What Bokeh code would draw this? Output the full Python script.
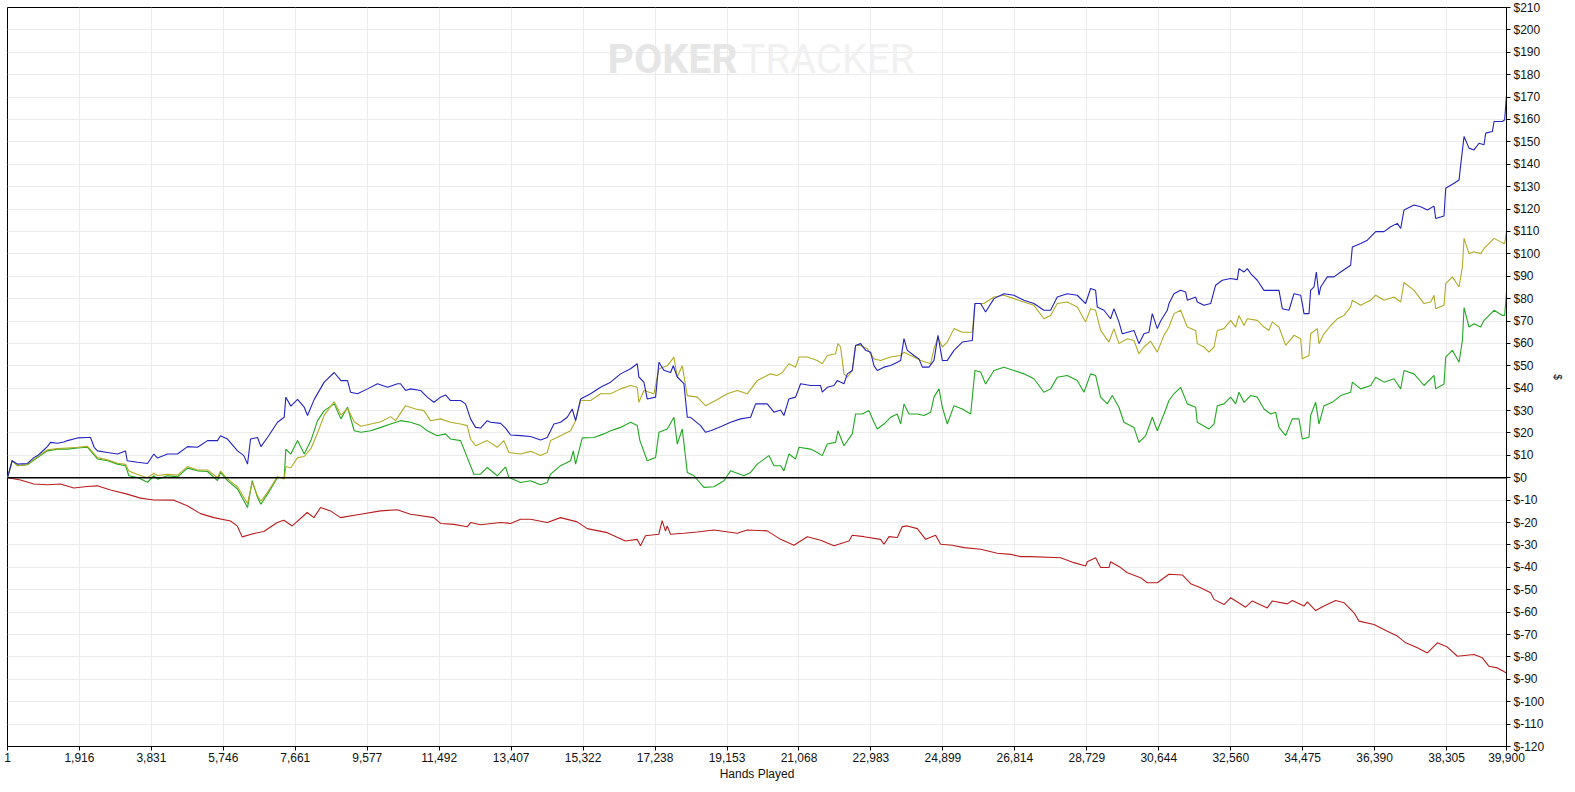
from bokeh.plotting import figure
from bokeh.models import FixedTicker, Span, Label, Range1d
from bokeh.embed import file_html
from bokeh.resources import INLINE

# ---------------- data ----------------
x_ticks = [1, 1916, 3831, 5746, 7661, 9577, 11492, 13407, 15322, 17238, 19153,
           21068, 22983, 24899, 26814, 28729, 30644, 32560, 34475, 36390, 38305, 39900]
y_ticks = list(range(-120, 211, 10))

blue_hands = [
    1, 125, 267, 533, 701, 800, 967, 1066, 1146, 1332,
    1500, 1598, 1864, 2131, 2210, 2308, 2397, 2663, 2929, 3142,
    3187, 3462, 3728, 3896, 3994, 4260, 4526, 4793, 5059, 5325,
    5591, 5671, 5857, 6123, 6292, 6390, 6470, 6656, 6745, 6922,
    7188, 7366, 7410, 7543, 7721, 7899, 7987, 8165, 8431, 8698,
    8875, 9052, 9132, 9318, 9584, 9850, 10117, 10383, 10463, 10596,
    10729, 10995, 11173, 11350, 11528, 11661, 11794, 12060, 12193, 12326,
    12459, 12592, 12770, 12858, 13125, 13258, 13391, 13657, 13923, 14189,
    14367, 14545, 14722, 14900, 15033, 15122, 15255, 15521, 15787, 16053,
    16319, 16585, 16763, 16807, 16940, 17029, 17251, 17340, 17473, 17651,
    17722, 17828, 18006, 18095, 18183, 18449, 18582, 18715, 18981, 19247,
    19513, 19780, 19913, 20223, 20401, 20578, 20667, 20800, 20978, 21111,
    21377, 21643, 21688, 21821, 21998, 22087, 22265, 22354, 22487, 22575,
    22708, 22842, 22975, 23063, 23152, 23330, 23507, 23685, 23774, 23863,
    23951, 24129, 24262, 24351, 24528, 24661, 24768, 24883, 25016, 25194,
    25416, 25682, 25751, 25902, 26035, 26257, 26523, 26789, 27055, 27321,
    27588, 27765, 27943, 28209, 28475, 28697, 28830, 28963, 29007, 29185,
    29362, 29451, 29584, 29673, 29984, 30117, 30250, 30383, 30472, 30605,
    30694, 30871, 30916, 31049, 31226, 31359, 31404, 31626, 31670, 31848,
    32025, 32158, 32336, 32557, 32735, 32779, 32912, 33001, 33090, 33267,
    33445, 33844, 33933, 34110, 34243, 34421, 34465, 34510, 34643, 34687,
    34776, 34838, 34909, 34954, 35131, 35309, 35486, 35752, 35797, 36019,
    36196, 36418, 36640, 36817, 36995, 37084, 37172, 37439, 37616, 37794,
    37971, 38015, 38237, 38282, 38504, 38637, 38681, 38770, 38903, 39036,
    39169, 39302, 39347, 39524, 39569, 39791, 39852, 39900]
blue_vals = [
    0, 7.6, 6.1, 6.4, 9, 9.9, 12.4, 14, 15.8, 15.4,
    16, 16.6, 17.8, 18, 18, 13.6, 12, 11.3, 10.6, 12,
    7.6, 6.9, 6.4, 10.6, 8.8, 10.6, 10.6, 13.9, 13.6, 16.6,
    16.6, 18.8, 17.3, 12, 9.9, 6.1, 17.3, 18, 13.9, 18,
    24.8, 27, 36, 32, 35, 31.5, 27.8, 35, 42.7, 47,
    43.4, 43.4, 38.2, 37.5, 39.7, 42, 40.4, 42, 42, 39,
    39.7, 39, 36, 33.7, 36, 37, 34.5, 34.5, 33, 26.3,
    22.5, 22.2, 25.5, 24.8, 24.3, 22.2, 19.1, 18.8, 18.4, 16.9,
    18, 24, 24.8, 27, 30.7, 25.5, 35.2, 37.5, 40.4, 42.7,
    46.4, 48.7, 50.9, 45, 42.7, 35.2, 36, 51.6, 48, 47,
    50, 45, 42, 27, 27, 23.3, 20.3, 21, 22.8, 24.8,
    26.3, 27, 33, 33, 29.3, 30.3, 27.8, 35.2, 36, 42,
    41.2, 41.2, 38.2, 40.4, 41.2, 43.4, 42, 46.4, 47.9, 59.1,
    59.9, 56.9, 56.1, 50.1, 47.9, 49.4, 50.1, 51.6, 52.4, 62.1,
    56.9, 54.6, 53.1, 49.4, 49.4, 52.4, 63.6, 52.4, 52.4, 56.9,
    60.6, 61.3, 77.8, 77.8, 74, 80, 82.2, 81.5, 79.3, 77.8,
    74.8, 74.8, 80.7, 82.2, 81.5, 77.8, 84.5, 83.7, 76.3, 74.8,
    71, 75.5, 69.6, 64.3, 65.8, 59.9, 64.3, 65, 73.3, 66.6,
    70, 74.8, 77.8, 82.2, 83.7, 83, 79.3, 80.7, 78.5, 77,
    77.8, 86, 88.2, 89, 88.5, 93.4, 91.9, 93.4, 91.2, 88.2,
    83.7, 83.7, 75.5, 74.8, 82.2, 81.5, 77.8, 73.3, 73.3, 83.7,
    85.2, 91.9, 81.5, 85.2, 89.7, 89.7, 91.9, 94.9, 103.1, 104.6,
    106.1, 109.9, 109.9, 112.1, 113.6, 111.3, 119.6, 121.8, 121, 119.6,
    121.3, 115.8, 116.9, 129.3, 131.5, 133, 139.7, 152.4, 147.2, 146.4,
    149.4, 148.7, 153.9, 154.6, 159.1, 159.1, 159.9, 171]

olive_hands = [
    1, 125, 267, 533, 800, 1066, 1332, 1598, 1864, 2131,
    2397, 2663, 2929, 3142, 3231, 3462, 3728, 3896, 3994, 4260,
    4526, 4793, 5059, 5325, 5591, 5671, 5857, 6123, 6390, 6514,
    6656, 6745, 6922, 7188, 7366, 7410, 7543, 7721, 7899, 8076,
    8254, 8431, 8698, 8875, 9052, 9229, 9407, 9673, 9939, 10196,
    10330, 10596, 10862, 11084, 11262, 11528, 11794, 12060, 12237, 12326,
    12459, 12770, 13036, 13214, 13347, 13657, 13923, 14189, 14367, 14456,
    14722, 14989, 15122, 15255, 15521, 15787, 16053, 16319, 16585, 16763,
    16807, 16940, 17207, 17340, 17562, 17739, 17828, 17961, 18095, 18361,
    18582, 18848, 19159, 19425, 19691, 19957, 20312, 20490, 20623, 20800,
    20978, 21067, 21289, 21555, 21688, 21821, 22043, 22105, 22176, 22265,
    22354, 22487, 22575, 22708, 22886, 23063, 23241, 23507, 23774, 23863,
    24040, 24306, 24573, 24661, 24768, 24883, 25016, 25194, 25416, 25682,
    25751, 25991, 26257, 26523, 26789, 27055, 27321, 27588, 27765, 27943,
    28209, 28475, 28697, 28830, 28963, 29096, 29318, 29451, 29584, 29806,
    29984, 30117, 30250, 30428, 30605, 30783, 30916, 31049, 31226, 31404,
    31626, 31670, 31848, 31981, 32114, 32203, 32380, 32557, 32690, 32779,
    32912, 33001, 33267, 33445, 33578, 33667, 33844, 34022, 34243, 34421,
    34465, 34643, 34687, 34865, 34909, 35042, 35220, 35397, 35575, 35752,
    35797, 36019, 36285, 36418, 36640, 36906, 37084, 37172, 37439, 37705,
    37883, 37971, 38015, 38237, 38282, 38459, 38637, 38726, 38770, 38903,
    39036, 39214, 39302, 39569, 39791, 39852, 39900]
olive_vals = [
    0, 7.6, 5.4, 6, 9.5, 12.5, 13, 13.3, 13.6, 14,
    9, 8, 6.5, 6, 3, 1.5, 0, 2, 1, 1.5,
    1.2, 5, 3.5, 3.5, 0, 3, -0.5, -4, -11.5, -2,
    -8, -10.5, -6.5, 0.5, -0.5, 5, 4.5, 9, 9.5, 13,
    20, 28, 34, 28, 31, 25, 23, 24, 25, 27.3,
    25.5, 32.2, 30.7, 30, 25.5, 26.3, 24.8, 24, 23.3, 17.3,
    14.3, 16.6, 13.6, 16.6, 11.3, 10.6, 11.8, 9.9, 11.3, 16.6,
    18.8, 21, 25.5, 34.5, 34.5, 37.5, 37.5, 39.7, 41.2, 40.4,
    33.7, 39, 37.5, 48.7, 50, 53.9, 45, 50, 36.7, 36,
    32.2, 34.5, 37.5, 39, 37.5, 43.4, 46.4, 45.7, 47, 50.9,
    49.4, 53.9, 53.9, 52.4, 50.9, 54.6, 55.4, 59.9, 58.4, 46.4,
    44.9, 47.9, 59.1, 59.1, 57.6, 53.1, 52.4, 53.9, 54.6, 56.1,
    54.6, 52.4, 50.9, 57.6, 62.8, 58.4, 60.6, 66.6, 65, 65,
    77.8, 77.8, 80.7, 81.5, 80, 78.5, 77, 71, 72.5, 77.8,
    78.5, 76.3, 69.6, 75.5, 74.8, 65.8, 60.6, 66.6, 59.9, 62.1,
    61.3, 55.4, 58.4, 61, 56.1, 63.6, 67.3, 73.3, 74.8, 67.3,
    65.8, 59.9, 58.4, 56.1, 58.4, 65.8, 66.6, 70.3, 67.3, 72.5,
    68, 71, 70.3, 67.3, 65.8, 69.6, 67.3, 59.1, 63.6, 62.1,
    53.1, 54.6, 64.3, 66.6, 59.9, 64.3, 68, 71, 72.5, 76.3,
    79.3, 77, 79.3, 81.5, 79.3, 80.7, 78.5, 87.2, 83.7, 77.8,
    78.5, 81.5, 75.5, 77, 86.7, 89.7, 85.2, 94.2, 106.9, 100.1,
    100.9, 100.1, 102.4, 106.9, 104.9, 104.6, 110]

green_hands = [
    1, 125, 267, 533, 800, 1066, 1332, 1598, 1864, 2131,
    2397, 2663, 2929, 3142, 3231, 3462, 3728, 3896, 3994, 4260,
    4526, 4793, 5059, 5325, 5591, 5671, 5857, 6123, 6390, 6514,
    6656, 6745, 6922, 7188, 7366, 7410, 7543, 7721, 7899, 8076,
    8254, 8431, 8698, 8875, 9052, 9229, 9407, 9673, 9939, 10196,
    10463, 10729, 10995, 11173, 11439, 11661, 11794, 12060, 12237, 12415,
    12592, 12770, 13036, 13258, 13347, 13657, 13923, 14189, 14367, 14456,
    14722, 14989, 15060, 15122, 15300, 15610, 15876, 16053, 16319, 16585,
    16763, 16834, 17029, 17251, 17340, 17562, 17739, 17828, 17961, 18095,
    18272, 18538, 18804, 19070, 19247, 19602, 19780, 19957, 20268, 20401,
    20578, 20667, 20800, 20978, 21067, 21377, 21555, 21688, 21821, 22043,
    22105, 22265, 22487, 22575, 22753, 22931, 23063, 23152, 23330, 23507,
    23685, 23774, 23863, 23996, 24218, 24395, 24573, 24661, 24795, 24883,
    25016, 25194, 25416, 25638, 25751, 25902, 26035, 26257, 26523, 26789,
    27055, 27321, 27588, 27765, 27943, 28209, 28475, 28653, 28830, 28963,
    29096, 29274, 29407, 29584, 29717, 29984, 30117, 30295, 30472, 30605,
    30783, 30916, 31049, 31226, 31404, 31626, 31670, 31981, 32114, 32203,
    32380, 32557, 32690, 32779, 32912, 33090, 33267, 33445, 33622, 33755,
    33844, 34022, 34199, 34376, 34465, 34643, 34687, 34820, 34909, 35042,
    35264, 35486, 35752, 35797, 36019, 36285, 36418, 36640, 36906, 37084,
    37172, 37439, 37705, 37971, 38015, 38237, 38282, 38459, 38637, 38726,
    38770, 38903, 39036, 39214, 39302, 39569, 39791, 39852, 39900]
green_vals = [
    0, 7.6, 5.4, 5.8, 9, 12, 12.8, 12.8, 13.3, 13.6,
    8.4, 7.6, 6.1, 5.4, 0.9, 0.1, -2, 0.9, -0.6, 0.9,
    0.4, 4.3, 3.1, 2.8, -1.3, 2.4, -1.3, -5, -13.3, -1.3,
    -8.8, -11.8, -7.3, 0.1, 0.1, 12.8, 10.6, 16.6, 10.6, 16.6,
    25.5, 30, 33, 26.3, 31.5, 21, 20.3, 21, 22.5, 24,
    25.5, 24.8, 23.3, 21, 18.8, 19.6, 17.3, 16.6, 9.1, 1.6,
    1.6, 4.6, 0.9, 4.9, 0.1, -2.1, -1.3, -3.1, -2.1, 1.6,
    5.4, 7.6, 12, 6.1, 17.8, 18, 19.6, 21, 22.5, 24.8,
    23.3, 16.6, 7.6, 9.1, 20.3, 21.8, 27, 15, 21.8, 2.4,
    0.9, -4.3, -4, -1.3, 3.1, 0.9, 2.4, 6.1, 9.9, 5.4,
    5.4, 3.1, 10.6, 8.4, 13.6, 12.8, 11.3, 9.9, 15.1, 15.8,
    21, 14.3, 19.6, 28.5, 28.5, 30, 24.8, 21.8, 24, 27,
    28.5, 24, 33, 28.5, 28.5, 27.8, 29.3, 36, 39.7, 31.5,
    24, 32.2, 30.7, 28.5, 47.9, 47.2, 41.9, 47.9, 49.4, 47.9,
    46.4, 44.2, 38.2, 39.7, 44.9, 45.7, 43.4, 38.2, 46.4, 45.7,
    36, 33, 36.7, 31.5, 24.8, 22.5, 15.8, 18.8, 27, 21,
    28.5, 34.5, 37.5, 40.4, 33, 31.5, 24.8, 21.8, 24, 32.2,
    33, 36, 33, 38.2, 33.7, 36.7, 36, 30.7, 28.5, 29.3,
    22.5, 18.8, 26.3, 26.3, 17.3, 18.1, 27.8, 33.7, 24, 32.2,
    33.7, 36.7, 38.2, 42.7, 39.7, 41.2, 44.9, 42.7, 44.2, 39.7,
    47.9, 46.4, 41.2, 45.7, 39.7, 41.9, 53.9, 56.9, 51.6, 61.3,
    76, 67.3, 68.8, 67.3, 70.3, 74.8, 72.5, 72.5, 83]

red_hands = [
    1, 347, 701, 1058, 1412, 1766, 2123, 2389, 2743, 3187,
    3541, 3896, 4428, 4784, 5139, 5493, 5937, 6115, 6248, 6557,
    6823, 7180, 7357, 7580, 7979, 8156, 8333, 8599, 8865, 9398,
    9930, 10374, 10728, 11350, 11528, 11882, 12237, 12326, 12592, 13125,
    13391, 13657, 13924, 14368, 14722, 15166, 15432, 15965, 16448, 16760,
    16849, 16982, 17337, 17426, 17515, 17560, 17648, 18003, 18358, 18802,
    19425, 19691, 20224, 20579, 20934, 21289, 21644, 21999, 22398, 22487,
    22797, 23241, 23330, 23463, 23685, 23818, 23951, 24217, 24439, 24705,
    24838, 25150, 25460, 25905, 26348, 26703, 26969, 27235, 28032, 28386,
    28697, 28742, 28963, 29096, 29318, 29362, 29628, 29806, 30161, 30339,
    30605, 30916, 31271, 31493, 31759, 32025, 32114, 32380, 32557, 32957,
    33134, 33534, 33667, 34066, 34199, 34510, 34599, 34820, 35042, 35353,
    35575, 35841, 35974, 36374, 36729, 36995, 37217, 37528, 37794, 38060,
    38326, 38593, 39036, 39258, 39435, 39657, 39900]
red_vals = [
    0, -1, -2.8, -3.1, -2.8, -4.6, -3.9, -3.6, -5.5, -7.3,
    -9.1, -9.9, -10, -12.5, -16, -17.8, -19.3, -21.5, -26.4, -24.9,
    -24, -20, -19, -21.5, -15.5, -17.8, -13.3, -14.8, -17.8, -16.3,
    -14.8, -14.3, -16.3, -17.8, -20.4, -20.8, -21.9, -20, -21, -20,
    -20.4, -18.5, -18.5, -20, -17.8, -19.7, -22.7, -24.5, -28.2, -27.5,
    -30.4, -25.9, -25.2, -19.1, -23.8, -21.5, -25.2, -24.8, -24.2, -23.3,
    -24.8, -23.3, -23.7, -27.5, -30.1, -26.3, -27.9, -30.4, -28.2, -25.7,
    -26.3, -27.5, -29.7, -26.3, -26.7, -21.8, -21.5, -22.7, -27.5, -25.7,
    -29.7, -30.1, -31.2, -31.9, -33.7, -34.2, -35.2, -35.2, -35.7, -37.9,
    -39.4, -37.5, -35.7, -40.1, -40.1, -37.5, -40.1, -42.4, -44.6, -46.9,
    -46.9, -43.1, -43.4, -47.3, -49.1, -51.3, -54.3, -56.6, -53.6, -57.8,
    -55, -58.1, -55, -56.3, -54.8, -57.3, -55.4, -59.3, -57.3, -54.8,
    -55.8, -60.3, -64, -65.5, -68.5, -70.7, -73.7, -75.9, -78.2, -73.7,
    -75.6, -79.7, -78.9, -80.4, -84.2, -84.9, -87.2]

# ---------------- figure ----------------
FONT = "Liberation Sans"
p = figure(frame_width=1499, frame_height=739,
           x_range=Range1d(1, 39900), y_range=Range1d(-120, 210),
           y_axis_location="right", output_backend="svg", toolbar_location=None,
           min_border_left=7, min_border_top=7, min_border_right=2, min_border_bottom=4,
           background_fill_color="white", border_fill_color="white")
p.outline_line_color = "black"
p.outline_line_width = 1

for ax in (p.xaxis[0], p.yaxis[0]):
    ax.axis_line_color = "black"
    ax.major_tick_line_color = "black"
    ax.major_tick_in = 0
    ax.major_tick_out = 4
    ax.minor_tick_line_color = None
    ax.major_label_text_font = FONT
    ax.major_label_text_font_size = "12px"
    ax.major_label_text_color = "#111111"
    ax.axis_label_text_font = FONT
    ax.axis_label_text_font_style = "normal"
    ax.axis_label_text_color = "#111111"

p.xaxis.ticker = FixedTicker(ticks=x_ticks)
p.xaxis.major_label_overrides = {t: f"{t:,}" for t in x_ticks}
p.xaxis.major_label_standoff = 2
p.xaxis.axis_label = "Hands Played"
p.xaxis.axis_label_text_font_size = "12px"
p.xaxis.axis_label_standoff = 2

p.yaxis.ticker = FixedTicker(ticks=y_ticks)
p.yaxis.major_label_overrides = {t: f"${t}" for t in y_ticks}
p.yaxis.major_label_standoff = 3
p.yaxis.axis_label = "$"
p.yaxis.axis_label_text_font_size = "10px"
p.yaxis.axis_label_standoff = 5

p.xgrid.grid_line_color = "#ebebeb"
p.ygrid.grid_line_color = "#ebebeb"
p.xgrid.grid_line_width = 1
p.ygrid.grid_line_width = 1

# watermark
p.add_layout(Label(x=19434, y=187, text="POKER", text_align="right",
                   text_baseline="alphabetic", text_font="Roboto",
                   text_font_style="bold", text_font_size="41px",
                   text_color="#e6e6e6", level="underlay"))
p.add_layout(Label(x=19540, y=187, text="TRACKER", text_align="left",
                   text_baseline="alphabetic", text_font="Roboto",
                   text_font_size="40px", text_color="#f1f1f1", level="underlay"))

p.add_layout(Span(location=0, dimension="width", line_color="black", line_width=1.4))

p.line(red_hands, red_vals, line_color="#b81e1e", line_width=1.1)
p.line(green_hands, green_vals, line_color="#22a822", line_width=1.1)
p.line(olive_hands, olive_vals, line_color="#b0ac26", line_width=1.1)
p.line(blue_hands, blue_vals, line_color="#2323bf", line_width=1.1)

open("out.html", "w").write(file_html(p, INLINE))
